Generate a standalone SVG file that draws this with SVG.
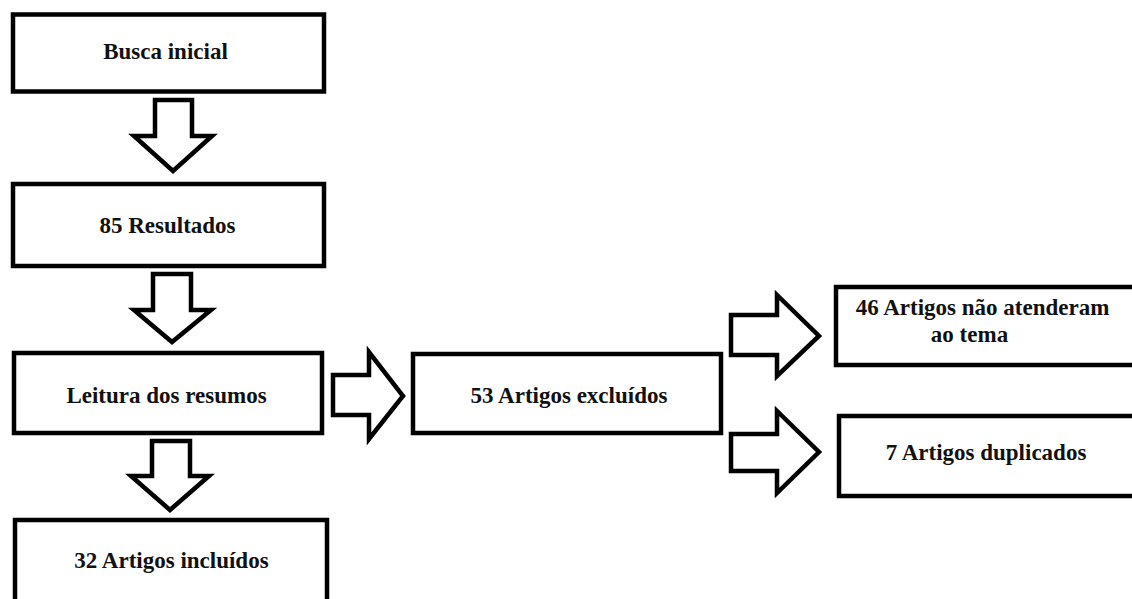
<svg xmlns="http://www.w3.org/2000/svg" width="1132" height="599" viewBox="0 0 1132 599">
<style>
.box{fill:#fff;stroke:#000;stroke-width:4.5}
.arr{fill:#fff;stroke:#000;stroke-width:4.5;stroke-linejoin:miter;stroke-miterlimit:10}
.t{font-family:"Liberation Serif","Times New Roman",serif;font-weight:bold;font-size:23px;fill:#111;text-anchor:middle}
</style>
<rect width="1132" height="599" fill="#fff"/>
<g id="connectors">
<polygon class="arr" points="155,100 192,100 192,136 212,136 173,171 134,136 155,136"/>
<polygon class="arr" points="153,274 191,274 191,310 211,310 172,342 134,310 153,310"/>
<polygon class="arr" points="152,441 190,441 190,476 209,476 170,510 131,476 152,476"/>
<polygon class="arr" points="333,375 369,375 369,352 403,396 369,439 369,415 333,415"/>
<polygon class="arr" points="731,315 777,315 777,295 819,336 777,376 777,355 731,355"/>
<polygon class="arr" points="731,434 777,434 777,411 819,452 777,493 777,471 731,471"/>
</g>
<g id="busca">
<rect class="box" x="13" y="14.5" width="311" height="77"/>
<text class="t" x="165.5" y="59">Busca inicial</text>
</g>
<g id="resultados">
<rect class="box" x="13" y="184" width="311" height="82"/>
<text class="t" x="167.5" y="233">85 Resultados</text>
</g>
<g id="leitura">
<rect class="box" x="14" y="353" width="308" height="80"/>
<text class="t" x="166.5" y="403">Leitura dos resumos</text>
</g>
<g id="incluidos">
<rect class="box" x="15" y="520" width="312" height="90"/>
<text class="t" x="171.5" y="568">32 Artigos incluídos</text>
</g>
<g id="excluidos">
<rect class="box" x="413" y="354" width="308" height="79"/>
<text class="t" x="569" y="403">53 Artigos excluídos</text>
</g>
<g id="tema">
<rect class="box" x="836" y="287" width="320" height="78"/>
<text class="t" x="982.5" y="315">46 Artigos não atenderam</text>
<text class="t" x="969.5" y="342">ao tema</text>
</g>
<g id="duplicados">
<rect class="box" x="839" y="416" width="320" height="80"/>
<text class="t" x="986" y="460">7 Artigos duplicados</text>
</g>
</svg>
